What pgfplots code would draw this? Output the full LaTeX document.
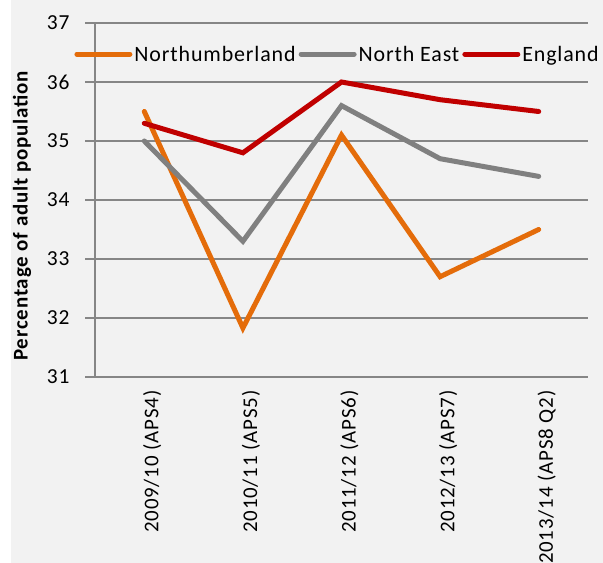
\documentclass[border=0pt]{standalone}
\usepackage{pgfplots}
\pgfplotsset{compat=1.18}
\usepackage{fontspec}
\setmainfont{Carlito}[LetterSpace=4]
\definecolor{bgc}{HTML}{F2F2F2}
\definecolor{gridc}{HTML}{868686}
\definecolor{orangec}{HTML}{E46C0A}
\definecolor{grayc}{HTML}{808080}
\definecolor{redc}{HTML}{C00000}
\begin{document}
\begin{tikzpicture}
\path[use as bounding box] (0,0) rectangle (603bp,563bp);
\fill[bgc] (11bp,0) rectangle (603bp,563bp);
\begin{axis}[
  at={(95bp,186bp)}, anchor=south west,
  scale only axis, width=493bp, height=354bp,
  xmin=-0.5, xmax=4.5, ymin=31, ymax=37,
  axis x line*=bottom, axis y line*=left,
  axis line style={gridc, line width=1.5bp, -},
  ytick={31,...,37},
  ymajorgrids, grid style={gridc, line width=1.5bp},
  xtick={0,...,4},
  xticklabels={2009/10 (APS4),2010/11 (APS5),2011/12 (APS6),2012/13 (APS7),2013/14 (APS8 Q2)},
  minor xtick={-0.5,0.5,...,4.5},
  xtick style={draw=none},
  minor x tick style={gridc, line width=1.5bp},
  minor tick length=5bp,
  ytick style={gridc, line width=1.5bp},
  major tick length=10bp,
  tick align=outside,
  x tick label style={rotate=90, anchor=east, font=\fontsize{21}{24}\selectfont, yshift=-8bp, text=black},
  y tick label style={font=\fontsize{21.5}{24}\selectfont, xshift=-12bp},
  /pgf/number format/assume math mode=true,
  ylabel={\bfseries Percentage of adult population},
  ylabel style={at={(axis description cs:-0.148,0.455)}, anchor=center, rotate=0, font=\fontsize{21}{22}\selectfont},
  legend columns=3,
  legend style={draw=none, fill=none, at={(0.492,0.912)}, anchor=center, font=\fontsize{22}{24}\selectfont,
    /tikz/every even column/.append style={column sep=1bp}, inner xsep=0pt,
    nodes={inner xsep=2bp}},
  legend image code/.code={\draw[#1, line cap=round] (0bp,0bp) -- (53bp,0bp);},
  clip=false,
]
\addplot[orangec, line width=5bp, line cap=round] coordinates {(0,35.5) (1,31.83) (2,35.1) (3,32.7) (4,33.5)};
\addlegendentry{Northumberland}
\addplot[grayc, line width=5bp, line cap=round] coordinates {(0,35.0) (1,33.3) (2,35.6) (3,34.7) (4,34.4)};
\addlegendentry{North East}
\addplot[redc, line width=5bp, line cap=round] coordinates {(0,35.3) (1,34.8) (2,36.0) (3,35.7) (4,35.5)};
\addlegendentry{England}
\end{axis}
\end{tikzpicture}
\end{document}
